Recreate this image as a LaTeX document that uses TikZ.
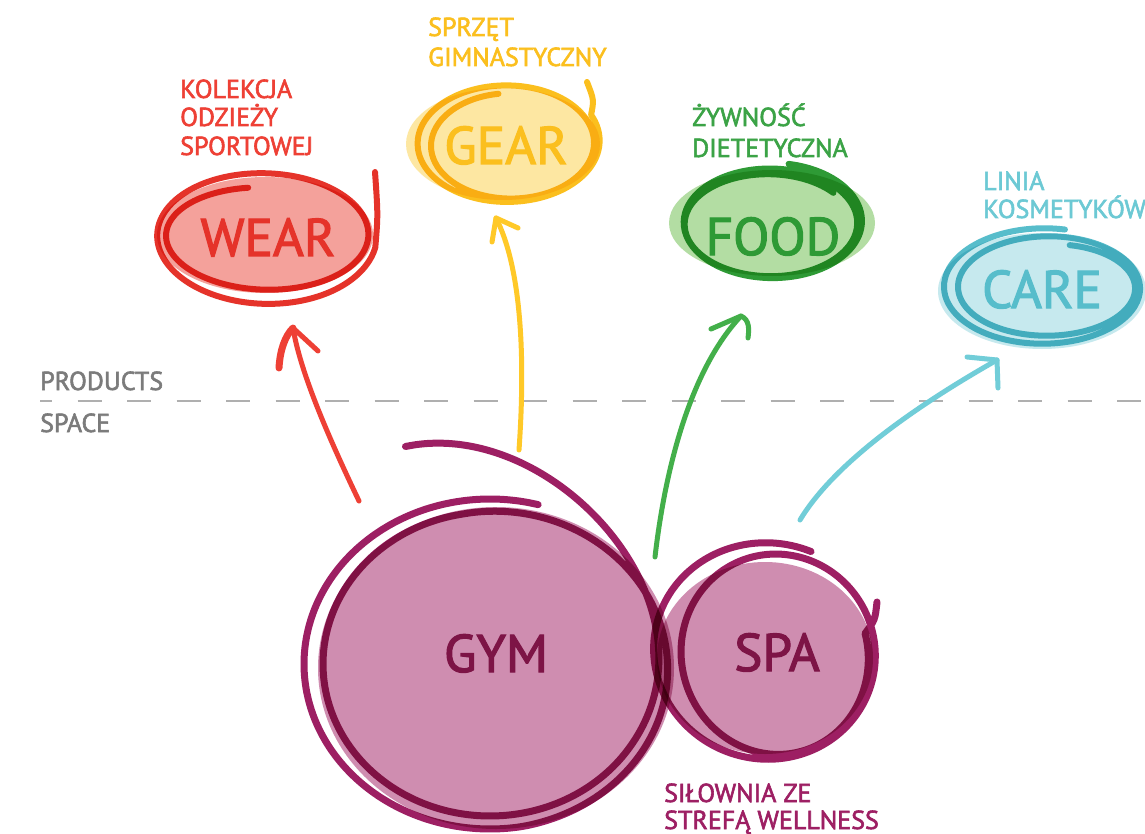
\documentclass[tikz,border=0pt]{standalone}
\usepackage{fontspec}
\setmainfont{PT Sans}[FakeBold=2.2]
\definecolor{wearC}{HTML}{E5332A}
\definecolor{wearF}{HTML}{F4A19B}
\definecolor{wearA}{HTML}{EE4035}
\definecolor{gearC}{HTML}{FBBF1E}
\definecolor{gearF}{HTML}{FDE7A2}
\definecolor{gearA}{HTML}{FFC928}
\definecolor{foodC}{HTML}{2E9A35}
\definecolor{foodL}{HTML}{3BA346}
\definecolor{foodF}{HTML}{B3DDA3}
\definecolor{foodA}{HTML}{43AF4A}
\definecolor{careC}{HTML}{57BDCB}
\definecolor{careL}{HTML}{6CC9D4}
\definecolor{careF}{HTML}{C6E9EE}
\definecolor{careA}{HTML}{71CDD8}
\definecolor{gymC}{HTML}{9D1F63}
\definecolor{gymF}{HTML}{CF8DB0}
\definecolor{gymT}{HTML}{7D1446}
\definecolor{greyT}{HTML}{7B7B7B}
\definecolor{greyD}{HTML}{AFAFAF}
\tikzset{
  scrib/.style={line width=6, line cap=round, line join=round, blend mode=multiply},
  blob/.style={blend mode=multiply},
  arr/.style={line width=5, line cap=round, line join=round},
  smalltxt/.style={anchor=base west, inner sep=0, font=\fontsize{26}{28}\selectfont},
  bigtxt/.style={anchor=base, inner sep=0, font=\fontsize{53}{60}\selectfont},
}
\begin{document}
\begin{tikzpicture}[x=1pt,y=-1pt]
\useasboundingbox (0,0) rectangle (1145,834);
\fill[white] (0,0) rectangle (1145,834);

% products / space divider
\draw[greyD, line width=1.5, dash pattern=on 24 off 25.5, dash phase=12] (40,401) -- (1145,401);
\node[smalltxt, greyT] (prod) at (40,390) {PRODUCTS};
\node[smalltxt, greyT] (space) at (40,432) {SPACE};

% soft fills
\fill[blob, wearF] (265,235) ellipse [x radius=108, y radius=58];
\fill[blob, gearF] (503,144) ellipse [x radius=97, y radius=56];
\fill[blob, foodF] (772,223) ellipse [x radius=103, y radius=53];
\fill[blob, careF] (1042,291) ellipse [x radius=104, y radius=58];
\fill[blob, gymF] (496,668) ellipse [x radius=178, y radius=161];
\fill[blob, gymF] (765,658) ellipse [x radius=108, y radius=96];

% hand-drawn loops (radii and centres drift along each stroke)
\draw[scrib, wearC] plot[smooth, variable=\t, domain=260:-350, samples=150]
  ({265+(97+(260-\t)/610*15)*cos(\t)}, {235+(48+(260-\t)/610*24)*sin(\t)})
  .. controls (378,215) .. (375,172);
\draw[scrib, gearC] plot[smooth, variable=\t, domain=260:-385, samples=150]
  ({512-(260-\t)/645*7+(78+(260-\t)/645*17)*cos(\t)}, {145-(260-\t)/645*4+(52+(260-\t)/645*10)*sin(\t)})
  .. controls (594,100) .. (587,82);
\draw[scrib, foodC] plot[smooth, variable=\t, domain=280:1040, samples=170]
  ({773-(\t-280)/760*4+(90-(\t-280)/760*6)*cos(\t)}, {221+(\t-280)/760*4+(58-(\t-280)/760*8)*sin(\t)});
\draw[scrib, careC] plot[smooth, variable=\t, domain=283:-437, samples=170]
  ({1042+(283-\t)/720*9+(102-(283-\t)/720*19)*cos(\t)}, {288+(60-(283-\t)/720*16)*sin(\t)});
\draw[scrib, gymC, line width=7] plot[smooth, variable=\t, domain=245:1005, samples=240]
  ({490+(167+19*min(1,max(0,(\t-620)/180))+33*(max(0,1-(\t-245)/150))^2)*cos(\t)},
   {664+(152+13*min(1,max(0,(\t-620)/180))+88*(max(0,1-(\t-245)/150))^2)*sin(\t)});
\draw[scrib, gymC, line width=7] plot[smooth, variable=\t, domain=294:-375, samples=170]
  ({763+(294-\t)/669*19+(118-(294-\t)/669*32)*cos(\t)}, {652+(294-\t)/669*6+(110-(294-\t)/669*15)*sin(\t)})
  .. controls (875,620) .. (877,602);

% arrow anchors
\coordinate (wearFrom) at (359,501);
\coordinate (wearTip) at (293,328);
\coordinate (wearL) at (279,368);
\coordinate (wearR) at (318,351);
\coordinate (gearFrom) at (519,450);
\coordinate (gearTip) at (496,218);
\coordinate (gearL) at (492,242);
\coordinate (gearR) at (518,228);
\coordinate (foodFrom) at (655,557);
\coordinate (foodTip) at (741,316);
\coordinate (foodL) at (711,329);
\coordinate (foodR) at (748,338);
\coordinate (careFrom) at (800,520);
\coordinate (careTip) at (997,360);
\coordinate (careL) at (967,357);
\coordinate (careR) at (998,388);

% arrows
\draw[arr, wearA] (wearFrom) .. controls (325,430) and (300,370) .. (wearTip);
\draw[arr, wearA] (wearTip) -- (wearR);
\draw[arr, wearA, line width=7] (wearL) .. controls (280,350) and (285,336) .. (wearTip);
\draw[arr, gearA] (gearFrom) .. controls (526,350) and (520,265) .. (gearTip);
\draw[arr, gearA] (gearL) -- (gearTip) -- (gearR);
\draw[arr, foodA] (foodFrom) .. controls (665,470) and (690,370) .. (foodTip);
\draw[arr, foodA] (foodL) -- (foodTip) .. controls (750,320) and (749,330) .. (foodR);
\draw[arr, careA] (careFrom) .. controls (830,470) and (900,415) .. (careTip);
\draw[arr, careA] (careL) -- (careTip) -- (careR);

% small captions
\node[smalltxt, wearA] (wear1) at (180,98) {KOLEKCJA};
\node[smalltxt, wearA] (wear2) at (180,126) {ODZIEŻY};
\node[smalltxt, wearA] (wear3) at (180,155) {SPORTOWEJ};
\node[smalltxt, gearC] (gear1) at (428,36) {SPRZĘT};
\node[smalltxt, gearC] (gear2) at (428,66) {GIMNASTYCZNY};
\node[smalltxt, foodL] (food1) at (692,126) {ŻYWNOŚĆ};
\node[smalltxt, foodL] (food2) at (692,157) {DIETETYCZNA};
\node[smalltxt, careL] (care1) at (983,190) {LINIA};
\node[smalltxt, careL] (care2) at (983,218) {KOSMETYKÓW};
\node[smalltxt, gymC] (spa1) at (664,802) {SIŁOWNIA ZE};
\node[smalltxt, gymC] (spa2) at (664,829) {STREFĄ WELLNESS};

% big labels
\node[bigtxt, wearC] (wearT) at (268,256) {WEAR};
\node[bigtxt, gearC] (gearT) at (506,164) {GEAR};
\node[bigtxt, foodC] (foodT) at (773,255) {FOOD};
\node[bigtxt, careC] (careT) at (1042,308) {CARE};
\node[bigtxt, gymT] (gymL) at (496,672) {GYM};
\node[bigtxt, gymT] (spaL) at (777,671) {SPA};
\end{tikzpicture}
\end{document}
